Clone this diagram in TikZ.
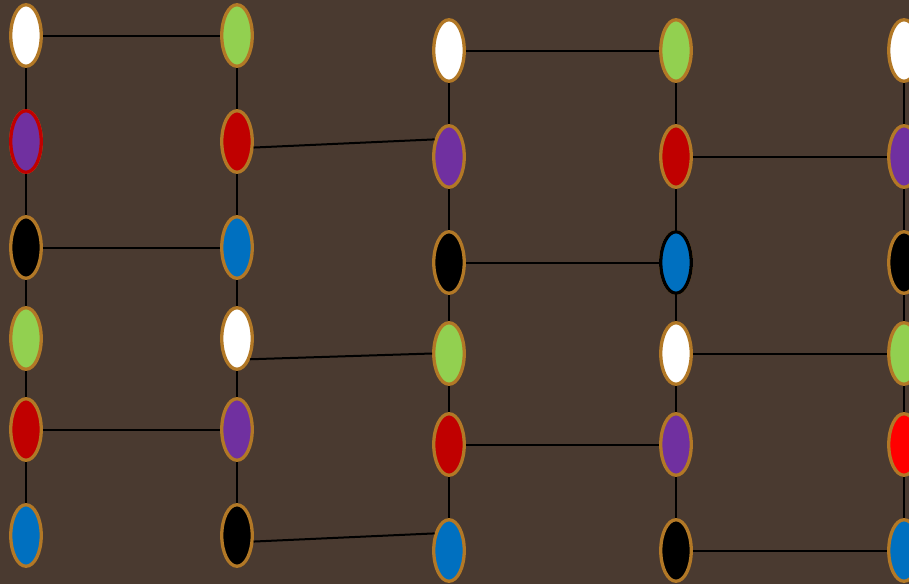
\documentclass[tikz,border=0pt]{standalone}
\usepackage{xcolor}
\usepackage{tikz}
\usetikzlibrary{shapes.geometric, positioning}
\definecolor{bgbrown}{HTML}{4A3A30}
\definecolor{rim}{HTML}{B27826}
\definecolor{lgreen}{HTML}{92D050}
\definecolor{dred}{HTML}{C00000}
\definecolor{purp}{HTML}{7030A0}
\definecolor{oblue}{HTML}{0070C0}
\tikzset{
  bead/.style={ellipse,draw=rim,line width=3.3pt,inner sep=0pt,
    minimum width=30.5pt,minimum height=61.5pt},
  link/.style={draw=black,line width=2pt}
}
\begin{document}
\begin{tikzpicture}[x=1pt,y=-1pt]
\fill[bgbrown] (0,0) rectangle (909,584);
\useasboundingbox (0,0) rectangle (909,584);
% five strands of six beads
\foreach \col/\x/\yo/\cols in {
  a/26/35.5/{white,purp,black,lgreen,dred,oblue},
  b/237/35.5/{lgreen,dred,oblue,white,purp,black},
  c/449/50.5/{white,purp,black,lgreen,dred,oblue},
  d/676/50.5/{lgreen,dred,oblue,white,purp,black},
  e/904/50.5/{white,purp,black,lgreen,red,oblue}}
  \foreach \fc [count=\k] in \cols {
    \pgfmathsetmacro\dy{{0,106,212,303,394,500}[\k-1]}
    \node[bead,fill=\fc] (\col\k) at (\x,\yo+\dy) {};
  }
% odd rims
\node[bead,draw=dred,fill=purp] at (a2) {};
\node[bead,draw=black,fill=oblue] at (d3) {};
% strands
\foreach \col in {a,b,c,d,e} {
  \foreach \k [count=\nx from 2] in {1,...,5} {
    \draw[link] (\col\k) -- (\col\nx);
  }
}
% rungs
\foreach \p/\q in {a1/b1,a3/b3,a5/b5,c1/d1,c3/d3,c5/d5,d2/e2,d4/e4,d6/e6}
  \draw[link] (\p.east) -- (\q.west);
\draw[link] (b2.-20) -- (c2.130);
\draw[link] (b4.-58) -- (c4.west);
\draw[link] (b6.-20) -- (c6.130);
\end{tikzpicture}
\end{document}
